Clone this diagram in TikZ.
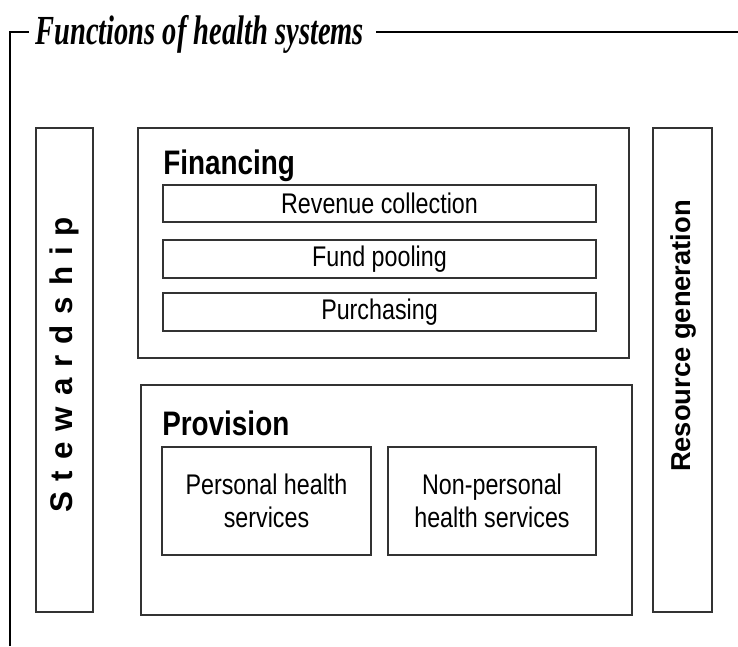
\documentclass[tikz,border=0pt]{standalone}
\usepackage{fontspec}
\setmainfont{Liberation Sans}[FakeStretch=0.82]
\newfontfamily\sidefont{Liberation Sans}
\newfontfamily\titlefont{Liberation Serif}[FakeStretch=0.69]
\usepackage{tikz}

\tikzset{
  box/.style={draw=black!80,line width=1pt,inner sep=0pt},
  head/.style={anchor=base west,inner sep=0pt,font=\fontsize{25.5}{30}\selectfont\bfseries},
  item/.style={box,font=\fontsize{21.3}{24.75}\selectfont,align=center},
  side/.style={rotate=90,inner sep=0pt,font=\fontsize{21}{25}\selectfont\sidefont\bfseries}
}
\newcommand\gap{\kern0.35em}

\begin{document}
\begin{tikzpicture}[x=0.75pt,y=-0.75pt]
\useasboundingbox (0,0) rectangle (738,646);
% frame and title
\node[anchor=base west,inner sep=0pt,font=\fontsize{31}{34}\selectfont\titlefont\bfseries\itshape](title) at (35,44){Functions of health systems};
\coordinate(tl) at (10,32);
\coordinate(bl) at (10,646);
\coordinate(tr) at (738,32);
\draw[line width=1.1pt] (bl) -- (tl) -- ([xshift=-4.5pt]title.west |- tl);
\draw[line width=1.1pt] ([xshift=9pt]title.east |- tr) -- (tr);
% side columns
\node[box,minimum width=42.75pt,minimum height=363pt](stew) at (64.5,370){};
\node[side,font=\fontsize{23.5}{27}\selectfont\sidefont\bfseries](stewtext) at (64.5,365){S\gap t\gap e\gap w\gap a\gap r\gap d\gap s\gap h\gap i\gap p};
\node[box,minimum width=44.25pt,minimum height=363pt](res) at (682.5,370){};
\node[side,font=\fontsize{20.5}{25}\selectfont\sidefont\bfseries](restext) at (683,336){Resource generation};
% financing
\node[box,minimum width=368.25pt,minimum height=172.5pt](fin) at (383.5,243){};
\node[head](fintext) at (163,174){Financing};
\node[item,minimum width=324.75pt,minimum height=27.75pt](rev) at (379.5,203.5){Revenue collection};
\node[item,minimum width=324.75pt,minimum height=28.5pt](pool) at (379.5,259){Fund pooling};
\node[item,minimum width=324.75pt,minimum height=28.5pt](purch) at (379.5,312){Purchasing};
% provision
\node[box,minimum width=368.25pt,minimum height=172.5pt](prov) at (386.5,500){};
\node[head](provtext) at (162,435){Provision};
\node[item,minimum width=156.75pt,minimum height=81pt](pers) at (266.5,501){Personal health\\services};
\node[item,minimum width=156pt,minimum height=81pt](npers) at (492,501){Non-personal\\health services};
\end{tikzpicture}
\end{document}
